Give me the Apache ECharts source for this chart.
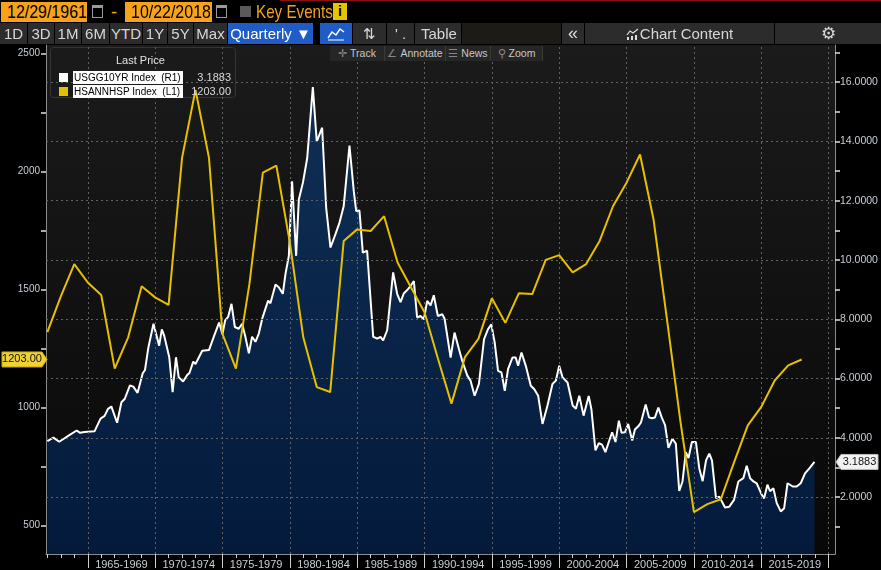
<!DOCTYPE html>
<html>
<head>
<meta charset="utf-8">
<script src="https://cdn.jsdelivr.net/npm/echarts@6/dist/echarts.min.js"></script>
<style>
body{margin:0;background:#000;width:881px;height:570px;overflow:hidden;position:relative;
  font-family:'Liberation Sans',Arial,sans-serif;}
#main{position:absolute;left:0;top:0;width:881px;height:570px;}
.tb{position:absolute;height:21px;line-height:21px;font-size:15px;color:#d8d8d8;background:#2c2c2c;text-align:center;white-space:nowrap;overflow:hidden;}
.date{position:absolute;top:2px;height:20px;line-height:20px;background:#f7a21c;color:#000;font-size:19px;white-space:nowrap;overflow:hidden;}
.cond{display:inline-block;transform:scaleX(0.84);transform-origin:left center;}
.cal{position:absolute;top:5px;width:9px;height:9px;border:1.5px solid #9a9a9a;border-top-width:3px;}
.sub{position:absolute;top:46px;height:15px;line-height:15px;font-size:10.5px;color:#c8c8c8;background:#262626;border-right:1px solid #3a3a3a;text-align:center;white-space:nowrap;}
.sub b{color:#888;font-weight:normal;margin-right:3px;}
</style>
</head>
<body>
<div id="main"></div>

<!-- top bar -->
<div style="position:absolute;left:280px;top:0;width:601px;height:1px;background:#8c1010"></div>
<div class="date" style="left:1px;width:86px;padding-left:6px;box-sizing:border-box"><span class="cond">12/29/1961</span></div>
<div class="cal" style="left:92px"></div>
<div style="position:absolute;left:111px;top:1px;color:#f7a21c;font-size:19px">-</div>
<div class="date" style="left:125px;width:87px;padding-left:6px;box-sizing:border-box"><span class="cond">10/22/2018</span></div>
<div class="cal" style="left:216px"></div>
<div style="position:absolute;left:240px;top:6px;width:11px;height:11px;background:#5a5a5a"></div>
<div style="position:absolute;left:256px;top:1px;color:#f7a21c;font-size:19px;line-height:21px;white-space:nowrap"><span class="cond" style="transform:scaleX(0.8)">Key Events</span></div>
<div style="position:absolute;left:333px;top:3px;width:14px;height:17px;line-height:17px;background:#e2c700;color:#000;font-weight:bold;font-size:14px;text-align:center">i</div>

<div class="tb" style="left:0;top:23px;width:27px">1D</div>
<div class="tb" style="left:28px;top:23px;width:26px">3D</div>
<div class="tb" style="left:55px;top:23px;width:26px">1M</div>
<div class="tb" style="left:82px;top:23px;width:27px">6M</div>
<div class="tb" style="left:110px;top:23px;width:32px">YTD</div>
<div class="tb" style="left:143px;top:23px;width:24px">1Y</div>
<div class="tb" style="left:168px;top:23px;width:25px">5Y</div>
<div class="tb" style="left:194px;top:23px;width:33px">Max</div>
<div class="tb" style="left:228px;top:23px;width:85px;background:#1f5cc6;color:#fff">Quarterly &#9660;</div>
<div class="tb" style="left:320px;top:23px;width:32px;background:#1f5cc6">
  <svg width="18" height="14" viewBox="0 0 18 14" style="margin-top:4px"><polyline points="1,11 5,5 9,8 13,2 17,5" fill="none" stroke="#fff" stroke-width="1.4"/><line x1="1" y1="13" x2="17" y2="13" stroke="#fff" stroke-width="1"/></svg>
</div>
<div class="tb" style="left:353px;top:23px;width:33px">&#8645;</div>
<div class="tb" style="left:387px;top:23px;width:27px">' .</div>
<div class="tb" style="left:415px;top:23px;width:46px;text-align:left;padding-left:6px;box-sizing:border-box">Table</div>
<div class="tb" style="left:462px;top:23px;width:99px;background:#1d1b16"></div>
<div class="tb" style="left:562px;top:23px;width:22px;font-size:18px">&#171;</div>
<div class="tb" style="left:585px;top:23px;width:189px">
  <svg width="14" height="12" viewBox="0 0 14 12" style="vertical-align:-1px"><polyline points="1,7 4,3 7,5 12,1" fill="none" stroke="#ddd" stroke-width="1.2"/><rect x="1" y="9" width="2" height="3" fill="#ddd"/><rect x="5" y="8" width="2" height="4" fill="#ddd"/><rect x="9" y="7" width="2" height="5" fill="#ddd"/></svg>Chart Content
</div>
<div class="tb" style="left:775px;top:23px;width:106px;font-size:17px">&#9881;</div>

<div class="sub" style="left:330px;width:54px"><b>&#10011;</b>Track</div>
<div class="sub" style="left:385px;width:60px"><b>&#8736;</b>Annotate</div>
<div class="sub" style="left:446px;width:44px"><b>&#9776;</b>News</div>
<div class="sub" style="left:491px;width:51px"><b>&#9906;</b>Zoom</div>

<script>
// USGG10YR Index, quarterly closes (x = date as decimal year)
var usgYears = [
  1962.0,1962.45,1962.88,1963.25,1963.63,1964.18,1964.43,1964.75,1965.5,1965.95,
  1966.25,1966.5,1966.75,1967.18,1967.5,1967.75,1968.13,1968.38,1968.7,1969.08,
  1969.25,1969.5,1969.88,1970.0,1970.3,1970.5,1970.68,1971.05,1971.3,1971.55,
  1971.75,1972.08,1972.38,1972.55,1972.83,1973.0,1973.5,1973.63,1974.0,1974.38,
  1974.75,1975.0,1975.2,1975.42,1975.67,1975.92,1976.21,1976.46,1976.7,1976.96,
  1977.2,1977.45,1977.7,1977.95,1978.39,1978.56,1978.94,1979.18,1979.48,1979.68,
  1979.93,1980.17,1980.47,1980.67,1980.97,1981.29,1981.71,1982.0,1982.4,1982.7,
  1983.02,1983.39,1983.69,1984.0,1984.43,1984.75,1984.93,1985.17,1985.42,1985.74,
  1986.19,1986.49,1986.73,1986.93,1987.23,1987.67,1987.97,1988.22,1988.46,1988.76,
  1988.96,1989.21,1989.45,1989.7,1989.95,1990.2,1990.45,1990.69,1990.99,1991.32,
  1991.49,1991.94,1992.23,1992.56,1992.8,1993.18,1993.42,1993.72,1994.04,1994.42,
  1994.71,1994.96,1995.21,1995.46,1995.71,1995.96,1996.2,1996.53,1996.77,1996.95,
  1997.2,1997.52,1997.89,1998.14,1998.44,1998.76,1999.13,1999.5,1999.75,2000.0,
  2000.25,2000.62,2001.0,2001.24,2001.49,2001.81,2002.19,2002.39,2002.69,2002.94,
  2003.18,2003.43,2003.76,2003.93,2004.18,2004.43,2004.63,2004.88,2005.12,2005.42,
  2005.62,2005.87,2006.07,2006.42,2006.67,2006.87,2007.11,2007.36,2007.61,2007.86,
  2008.11,2008.41,2008.66,2008.91,2009.15,2009.4,2009.6,2009.85,2010.15,2010.4,
  2010.65,2010.9,2011.14,2011.34,2011.64,2011.89,2012.31,2012.63,2012.98,2013.3,
  2013.67,2013.92,2014.17,2014.42,2014.66,2015.04,2015.21,2015.46,2015.65,2015.9,
  2016.15,2016.45,2016.7,2016.95,2017.34,2017.63,2017.93,2018.25,2018.57,2018.95
];
var usgYield = [
  3.89,4.01,3.87,3.98,4.09,4.25,4.17,4.20,4.22,4.65,
  4.74,4.98,5.06,4.51,5.20,5.32,5.77,5.73,5.52,6.18,
  6.29,7.05,7.85,7.91,7.11,7.66,7.44,6.72,5.54,6.72,
  6.05,5.90,6.12,6.19,6.57,6.49,6.94,6.96,6.96,7.44,
  7.89,7.50,7.96,8.08,8.52,7.74,7.68,7.85,7.41,6.85,
  7.41,7.24,7.52,8.02,8.63,8.54,9.17,9.08,8.86,9.53,
  10.14,12.65,10.14,12.04,12.60,13.43,15.83,13.99,14.46,11.76,
  10.42,10.87,11.26,11.81,13.86,12.32,11.65,11.67,10.25,10.31,
  7.41,7.35,7.41,7.29,7.63,9.58,8.86,8.58,8.87,9.01,
  9.12,9.29,8.06,8.11,8.00,8.62,8.47,8.81,8.11,8.17,
  8.02,6.71,7.55,6.99,6.60,6.10,5.93,5.42,5.82,7.33,
  7.66,7.83,7.22,6.26,6.21,5.59,6.32,6.71,6.71,6.43,
  6.88,6.43,5.76,5.65,5.42,4.47,5.09,5.82,5.93,6.43,
  6.04,5.87,5.09,4.98,5.42,4.75,5.41,4.97,3.58,3.82,
  3.77,3.52,3.97,4.19,3.86,4.58,4.17,4.19,4.47,3.91,
  4.28,4.39,4.52,5.13,4.69,4.66,4.69,5.02,4.69,4.43,
  3.66,3.97,3.80,2.21,2.52,3.52,3.32,3.86,3.86,2.97,
  2.54,3.24,3.47,3.24,1.97,2.02,1.65,1.68,1.91,2.53,
  2.64,3.06,2.64,2.53,2.47,2.08,1.96,2.42,2.20,2.30,
  1.80,1.52,1.63,2.47,2.36,2.36,2.47,2.80,2.97,3.1883
];

// HSANNHSP Index, annual (thousands of units), one value per calendar year
var hsYears = [];
for (var y = 1961; y <= 2017; y++) hsYears.push(y);
var hsStarts = [
  1319,1470,1607,1529,1476,1164,1297,1513,1466,1434,
  2057,2345,2057,1311,1164,1522,1994,2024,1700,1297,
  1086,1065,1705,1754,1747,1810,1614,1508,1403,1206,
  1016,1213,1290,1462,1358,1483,1480,1625,1645,1572,
  1607,1705,1853,1952,2071,1797,1373,940,556,590,
  611,770,924,1002,1114,1178,1203
];

// axis labels / ticks
var periodStarts = [1965,1970,1975,1980,1985,1990,1995,2000,2005,2010,2015];
var periodLabels = ['1965-1969','1970-1974','1975-1979','1980-1984','1985-1989','1990-1994',
                    '1995-1999','2000-2004','2005-2009','2010-2014','2015-2019'];
var gridYears = [1965,1970,1975,1980,1985,1990,1995,2000,2005,2010,2015,2020];
var yearTicks = [];
for (var t = 1962; t <= 2020; t++) yearTicks.push(t);
var leftTicks = [500,750,1000,1250,1500,1750,2000,2250,2500];
var leftLabels = [500,1000,1500,2000,2500];
var rightTicks = [1,2,3,4,5,6,7,8,9,10,11,12,13,14,15,16,17];
var rightLabels = [2,4,6,8,10,12,14,16];

var FONT = "'Liberation Sans',Arial,sans-serif";
var LABEL = '#c6ced8';
var GOLD = '#e6c000';

var usgLast = usgYield[usgYield.length - 1];
var hsLast = hsStarts[hsStarts.length - 1];

var chartDom = document.getElementById('main');
var myChart = echarts.init(chartDom);

var usgData = usgYears.map(function (d, i) { return [d, usgYield[i]]; });
// annual value is stamped at the year's last day
var hsData = hsYears.map(function (d, i) { return [d + 1, hsStarts[i]]; });

var gridLines = gridYears.map(function (v) { return { xAxis: v }; })
  .concat(rightLabels.map(function (v) { return { yAxis: v }; }));

var option = {
  backgroundColor: '#000',
  animation: false,
  textStyle: { fontFamily: FONT },
  grid: {
    left: 46, right: 46, top: 45, bottom: 14, show: true, borderWidth: 0,
    backgroundColor: new echarts.graphic.LinearGradient(0, 0, 0, 1, [
      { offset: 0, color: '#1b1b1b' }, { offset: 1, color: '#080808' }
    ])
  },
  graphic: [
    { type: 'rect', left: 50, top: 47, z: 4, shape: { width: 185, height: 50, r: 3 },
      style: { fill: '#1a1a1a', stroke: '#353535', lineWidth: 1 } },
    { type: 'text', left: 116, top: 55, z: 6,
      style: { text: 'Last Price', fill: '#e2e2e2', font: '11px ' + FONT } }
  ],
  legend: {
    orient: 'vertical', left: 54, top: 66, z: 10,
    itemWidth: 9, itemHeight: 9, itemGap: 1, icon: 'rect',
    selectedMode: false,
    data: ['USGG10YR Index  (R1)', 'HSANNHSP Index  (L1)'],
    formatter: function (name) {
      var v = name.indexOf('USGG') === 0 ? usgLast.toFixed(4) : hsLast.toFixed(2);
      return '{n|' + name + '}{v|' + v + '}';
    },
    textStyle: {
      rich: {
        n: { backgroundColor: '#fff', color: '#000', fontSize: 10, fontFamily: FONT, padding: [2, 1, 1, 1], width: 108 },
        v: { color: '#d8d8d8', fontSize: 11, fontFamily: FONT, width: 48, align: 'right' }
      }
    }
  },
  xAxis: [
    {
      type: 'value', min: 1961.9, max: 2020.475,
      axisLine: { show: true, lineStyle: { color: '#8c8c8c' } },
      axisTick: { show: true, customValues: yearTicks, length: 4, lineStyle: { color: '#cfcfcf' } },
      axisLabel: {
        customValues: periodStarts.map(function (s) { return s + 2.5; }),
        formatter: function (v) { return periodLabels[periodStarts.indexOf(v - 2.5)]; },
        color: LABEL, fontSize: 11, margin: 5
      },
      splitLine: { show: false }
    },
    {
      type: 'value', min: 1961.9, max: 2020.475, position: 'bottom',
      axisLine: { show: false },
      axisTick: { show: true, customValues: gridYears, length: 14, lineStyle: { color: '#cfcfcf' } },
      axisLabel: { show: false },
      splitLine: { show: false }
    }
  ],
  yAxis: [
    {
      type: 'value', position: 'left', min: 379, max: 2535,
      axisLine: { show: true, lineStyle: { color: '#8c8c8c' } },
      axisTick: { show: true, customValues: leftTicks, length: 5, lineStyle: { color: '#e0e0e0', width: 1.5 } },
      axisLabel: {
        customValues: leftLabels, color: LABEL, fontSize: 10, margin: 6,
        formatter: function (v) { return String(v); }
      },
      splitLine: { show: false }
    },
    {
      type: 'value', position: 'right', min: 0.084, max: 17.25,
      axisLine: { show: true, lineStyle: { color: '#8c8c8c' } },
      axisTick: { show: true, customValues: rightTicks, length: 5, lineStyle: { color: '#e0e0e0', width: 1.5 } },
      axisLabel: {
        customValues: rightLabels, color: LABEL, fontSize: 10.5, margin: 5,
        formatter: function (v) { return v.toFixed(4); }
      },
      splitLine: { show: false }
    }
  ],
  series: [
    {
      name: 'USGG10YR Index  (R1)', type: 'line', xAxisIndex: 0, yAxisIndex: 1,
      data: usgData, symbol: 'none', z: 2,
      lineStyle: { color: '#ffffff', width: 2 },
      itemStyle: { color: '#ffffff' },
      areaStyle: {
        origin: 'start', opacity: 1,
        color: new echarts.graphic.LinearGradient(0, 0, 0, 1, [
          { offset: 0, color: '#102f56' }, { offset: 1, color: '#031a3b' }
        ])
      },
      markLine: {
        silent: true, symbol: 'none', animation: false,
        label: { show: false },
        lineStyle: { color: '#626262', type: [2, 3], width: 1 },
        data: gridLines
      }
    },
    {
      name: 'HSANNHSP Index  (L1)', type: 'line', xAxisIndex: 0, yAxisIndex: 0,
      data: hsData, symbol: 'none', z: 5,
      lineStyle: { color: GOLD, width: 2 },
      itemStyle: { color: GOLD }
    }
  ]
};

option && myChart.setOption(option);

// last-price tags on both axes, placed through the axis scales
var hsY = myChart.convertToPixel({ yAxisIndex: 0 }, hsLast);
var usgY = myChart.convertToPixel({ yAxisIndex: 1 }, usgLast);
function tag(id, x0, x1, tipX, yMid, fill, stroke, text) {
  var h = 15, top = yMid - h / 2;
  var pts = tipX > x1
    ? [[x0, top], [x1, top], [tipX, yMid], [x1, top + h], [x0, top + h]]
    : [[tipX, yMid], [x0, top], [x1, top], [x1, top + h], [x0, top + h]];
  return [
    { type: 'polygon', id: id + 'b', z: 20, shape: { points: pts },
      style: { fill: fill, stroke: stroke, lineWidth: 1 } },
    { type: 'text', id: id + 't', z: 21, x: (x0 + x1) / 2, y: yMid,
      style: { text: text, fill: '#111', font: '11px ' + FONT, align: 'center', verticalAlign: 'middle' } }
  ];
}
myChart.setOption({
  graphic: option.graphic
    .concat(tag('hs', 2, 42, 47, hsY, '#efd23a', '#c9a800', hsLast.toFixed(2)))
    .concat(tag('us', 841, 878, 836, usgY, '#f2f2f2', '#bbbbbb', usgLast.toFixed(4)))
});
</script>
</body>
</html>
